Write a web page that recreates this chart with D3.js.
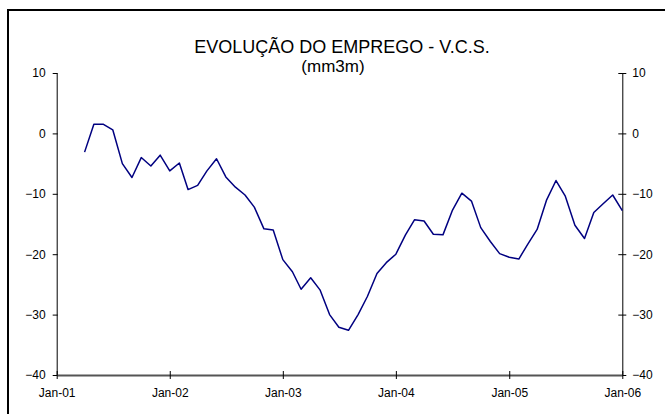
<!DOCTYPE html>
<html>
<head>
<meta charset="utf-8">
<script src="https://cdn.jsdelivr.net/npm/d3@7"></script>
<style>
  html, body { margin: 0; padding: 0; background: #fff; }
  svg { display: block; }
  text { font-family: "Liberation Sans", Arial, sans-serif; fill: #000; }
</style>
</head>
<body>
<svg id="chart" width="665" height="414"></svg>
<script>
// Data: monthly values, Apr-2001 .. Jan-2006
const startYear = 2001, startMonth = 3; // April 2001 (0-based month)
const values = [
  -3.1, 1.5, 1.5, 0.6, -5.0, -7.3, -4.0, -5.4, -3.6,           // Apr-01..Dec-01
  -6.2, -4.9, -9.3, -8.6, -6.2, -4.2, -7.2, -8.9, -10.2, -12.2, -15.8, -16.0, // 2002
  -20.9, -22.9, -25.8, -23.9, -25.9, -30.0, -32.1, -32.6, -30.0, -27.0, -23.2, -21.4, // 2003
  -20.0, -16.8, -14.3, -14.5, -16.7, -16.8, -12.8, -9.9, -11.2, -15.6, -17.9, -19.9, // 2004
  -20.5, -20.8, -18.4, -15.9, -11.1, -7.8, -10.4, -15.2, -17.4, -13.1, -11.6, -10.2, // 2005
  -12.8                                                           // Jan-06
];
const dates = values.map((v, i) => new Date(startYear, startMonth + i, 1));
const xTickLabels = ["Jan-01", "Jan-02", "Jan-03", "Jan-04", "Jan-05", "Jan-06"];
const xTickDates = [2001, 2002, 2003, 2004, 2005, 2006].map(y => new Date(y, 0, 1));
const yTicks = [10, 0, -10, -20, -30, -40];
const titleLines = ["EVOLUÇÃO DO EMPREGO - V.C.S.", "(mm3m)"];

const svg = d3.select("#chart");
const plot = { left: 56.7, right: 622.3, top: 73, bottom: 375 };

const x = d3.scaleTime()
  .domain([new Date(2001, 0, 1), new Date(2006, 0, 1)])
  .range([plot.left, plot.right]);
const y = d3.scaleLinear().domain([-40, 10]).range([plot.bottom, plot.top]);

// outer frame
svg.append("rect")
  .attr("x", 8).attr("y", 10).attr("width", 700).attr("height", 450)
  .attr("fill", "none").attr("stroke", "#000").attr("stroke-width", 2);

// title
svg.append("text").attr("x", 342).attr("y", 53).attr("text-anchor", "middle")
  .style("font-size", "18px")
  .text(titleLines[0]);
svg.append("text").attr("x", 333).attr("y", 72).attr("text-anchor", "middle")
  .style("font-size", "17px").text(titleLines[1]);

const lblSize = "12px";

// left axis
const yLeft = d3.axisLeft(y).tickValues(yTicks).tickSizeInner(4).tickSizeOuter(0).tickPadding(7).tickFormat(d3.format("d"));
const gL = svg.append("g").attr("transform", `translate(${plot.left},0)`).call(yLeft);
gL.selectAll("text").style("font-size", lblSize).attr("fill", "#000");

// right axis
const yRight = d3.axisRight(y).tickValues(yTicks).tickSizeInner(4).tickSizeOuter(0).tickPadding(6).tickFormat(d3.format("d"));
const gR = svg.append("g").attr("transform", `translate(${plot.right},0)`).call(yRight);
gR.selectAll("text").style("font-size", lblSize).attr("fill", "#000");
gR.selectAll(".tick line").attr("x1", -4).attr("x2", 4);

// bottom axis
const xAxis = d3.axisBottom(x).tickValues(xTickDates).tickSizeInner(4).tickSizeOuter(0).tickPadding(9)
  .tickFormat((d, i) => xTickLabels[i]);
const gX = svg.append("g").attr("transform", `translate(0,${plot.bottom})`).call(xAxis);
gX.selectAll("text").style("font-size", lblSize).attr("fill", "#000");
gX.selectAll(".tick line").attr("y1", -4).attr("y2", 4);
gX.select(".domain").attr("stroke", "#555").attr("stroke-width", 1.8);

[gL, gR, gX].forEach(g => g.selectAll(".tick line").attr("stroke", "#000"));
gL.select(".domain").attr("stroke", "#000");
gR.select(".domain").attr("stroke", "#000");
gL.selectAll(".tick line").attr("x1", -4).attr("x2", 1);

// line
const line = d3.line().x((d, i) => x(dates[i])).y(d => y(d));
svg.append("path").datum(values)
  .attr("d", line)
  .attr("fill", "none")
  .attr("stroke", "#000080")
  .attr("stroke-width", 1.5)
  .attr("stroke-linejoin", "round");
</script>
</body>
</html>
